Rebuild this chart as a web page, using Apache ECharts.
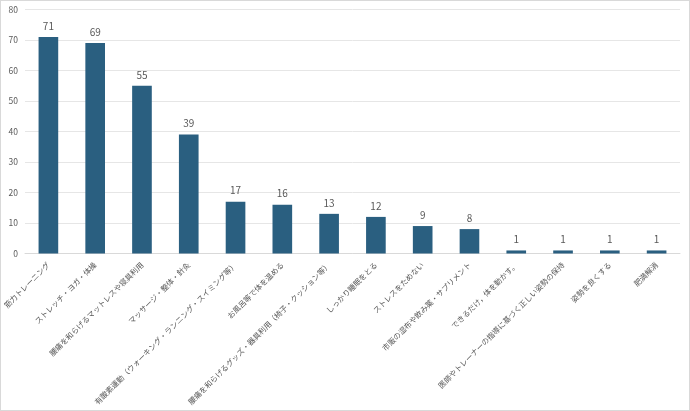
<!DOCTYPE html>
<html><head><meta charset="utf-8">
<script src="https://cdn.jsdelivr.net/npm/echarts@6/dist/echarts.min.js"></script>
<style>
html,body{margin:0;padding:0;background:#fff;}
#c{width:690px;height:411px;box-sizing:border-box;border:1px solid #d9d9d9;}
</style></head>
<body><div id="c"></div>
<script>
const categories = [
  "筋力トレーニング",
  "ストレッチ・ヨガ・体操",
  "腰痛を和らげるマットレスや寝具利用",
  "マッサージ・整体・針灸",
  "有酸素運動（ウォーキング・ランニング・スイミング等）",
  "お風呂等で体を温める",
  "腰痛を和らげるグッズ・器具利用（椅子・クッション等）",
  "しっかり睡眠をとる",
  "ストレスをためない",
  "市販の湿布や飲み薬・サプリメント",
  "できるだけ，体を動かす。",
  "医師やトレーナーの指導に基づく正しい姿勢の保持",
  "姿勢を良くする",
  "肥満解消"
];
const values = [71, 69, 55, 39, 17, 16, 13, 12, 9, 8, 1, 1, 1, 1];
const yMin = 0, yMax = 80, yInterval = 10;

const chart = echarts.init(document.getElementById('c'), null, {renderer: 'canvas'});
const font = '"Noto Sans CJK JP", "Noto Sans", sans-serif';
chart.setOption({
  animation: false,
  grid: {left: 24, right: 9, top: 8.5, bottom: 156.5, containLabel: false, outerBoundsMode: 'none'},
  xAxis: {
    type: 'category',
    data: categories,
    axisLine: {lineStyle: {color: '#d9d9d9'}},
    axisTick: {show: false},
    axisLabel: {rotate: 45, interval: 0, color: '#595959', fontSize: 7.6, fontFamily: font, margin: 10}
  },
  yAxis: {
    type: 'value',
    min: yMin, max: yMax, interval: yInterval,
    axisLine: {show: false},
    axisTick: {show: false},
    splitLine: {lineStyle: {color: '#e6e6e6'}},
    axisLabel: {color: '#595959', fontSize: 8.5, fontFamily: font, margin: 7}
  },
  series: [{
    type: 'bar',
    data: values,
    barWidth: '42%',
    itemStyle: {color: '#2a5f80'},
    label: {show: true, position: 'top', color: '#595959', fontSize: 10, fontFamily: font, distance: 6}
  }]
});
</script></body></html>
